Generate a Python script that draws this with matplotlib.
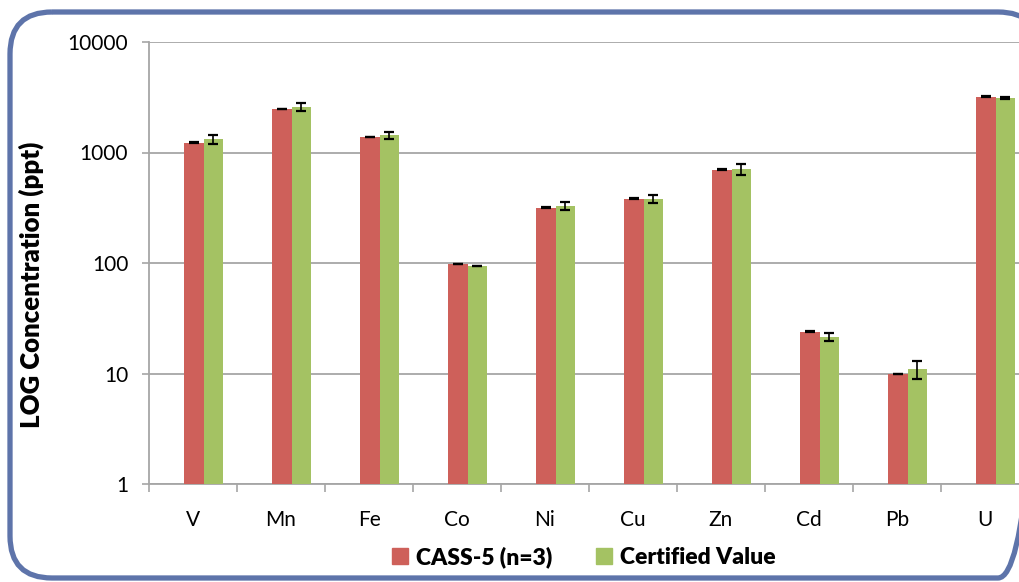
import numpy as np
import matplotlib
matplotlib.use('Agg')
import matplotlib.pyplot as plt
from matplotlib.patches import FancyBboxPatch, Patch
from matplotlib.ticker import FixedLocator, NullLocator

plt.rcParams['font.family'] = ['Lato', 'DejaVu Sans']

# DATA
elements = ['V', 'Mn', 'Fe', 'Co', 'Ni', 'Cu', 'Zn', 'Cd', 'Pb', 'U']
measured = [1227, 2480, 1380, 98, 317, 382, 697, 23.9, 9.9, 3200]
measured_err = [12, 20, 12, 0.8, 3, 3, 7, 0.2, 0.08, 30]
certified = [1320, 2600, 1430, 94, 328, 380, 710, 21.3, 11.0, 3130]
certified_err = [115, 210, 115, 0, 26, 30, 78, 1.8, 2.0, 70]
legend_labels = ['CASS-5 (n=3)', 'Certified Value']

red = '#CE605A'
green = '#A4C263'
grid_gray = '#A6A6A6'

fig = plt.figure(figsize=(10.19, 5.82), dpi=100)

# rounded blue frame, drawn in pixel units
bg = fig.add_axes([0, 0, 1, 1])
bg.set_xlim(0, 1019)
bg.set_ylim(582, 0)
bg.axis('off')
frame = FancyBboxPatch((10, 12), 1030, 566, boxstyle='round,pad=0,rounding_size=42',
                       linewidth=3.8, edgecolor='#5E74AA', facecolor='none')
bg.add_patch(frame)

ax = fig.add_axes([149 / 1019, 98 / 582, 880 / 1019, 442 / 582])
ax.set_facecolor('none')

x = np.arange(len(elements))
w = 0.222
err_kw = dict(ecolor='black', elinewidth=1.2, capsize=3.3, capthick=1.6)
ax.bar(x + 0.01, measured, w, color=red, yerr=measured_err, error_kw=err_kw, zorder=3)
ax.bar(x + 0.232, certified, w, color=green, yerr=certified_err, error_kw=err_kw, zorder=3)

ax.set_yscale('log')
ax.set_ylim(1, 10000)
ax.set_xlim(-0.5, len(elements) - 0.5)

ax.yaxis.set_major_locator(FixedLocator([1, 10, 100, 1000, 10000]))
ax.yaxis.set_minor_locator(NullLocator())
ax.set_yticklabels(['1', '10', '100', '1000', '10000'])
ax.grid(axis='y', color=grid_gray, linewidth=1.3, zorder=0)

ax.set_xticks(np.arange(len(elements) + 1) - 0.5)
ax.set_xticklabels([])
ax.set_xticks(x, minor=True)
ax.set_xticklabels(elements, minor=True)

ax.tick_params(axis='y', which='major', direction='out', length=5, width=1.2,
               color=grid_gray, labelsize=15, pad=10)
ax.tick_params(axis='x', which='major', direction='out', length=6, width=1.2, color=grid_gray)
ax.tick_params(axis='x', which='minor', length=0, labelsize=15, pad=19)

for s in ['top', 'right']:
    ax.spines[s].set_visible(False)
for s in ['left', 'bottom']:
    ax.spines[s].set_color(grid_gray)
    ax.spines[s].set_linewidth(1.3)

ax.set_ylabel('LOG Concentration (ppt)', fontsize=18.5, fontweight='heavy')
ax.yaxis.set_label_coords(-0.119, 0.45)

handles = [Patch(color=red), Patch(color=green)]
fig.legend(handles, legend_labels, loc='center', bbox_to_anchor=(584 / 1019, 1 - 557 / 582),
           ncol=2, frameon=False, handlelength=0.7, handleheight=0.7, handletextpad=0.35,
           columnspacing=1.9, prop={'weight': 'heavy', 'size': 16.5})

fig.savefig('out.png', dpi=100)
